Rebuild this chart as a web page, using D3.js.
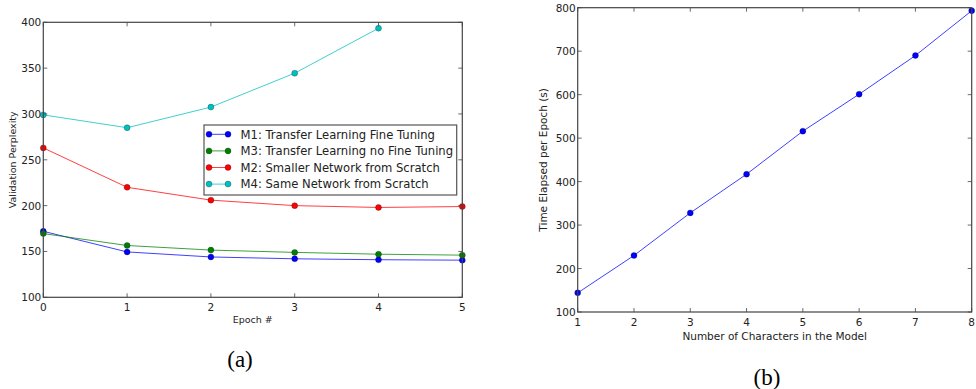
<!DOCTYPE html>
<html>
<head>
<meta charset="utf-8">
<script src="https://cdn.jsdelivr.net/npm/d3@7"></script>
<style>
  html, body { margin: 0; padding: 0; background: #fff; }
  svg { display: block; }
  text { font-family: "DejaVu Sans", sans-serif; fill: #222; }
  .caption { font-family: "Liberation Serif", "Times New Roman", serif; font-size: 23px; fill: #000; }
</style>
</head>
<body>
<div id="chart"></div>
<script>
// (a) validation perplexity per epoch
const epochs = [0, 1, 2, 3, 4, 5];
const m1 = [172, 149.5, 144, 142, 141, 140.5];
const m3 = [169.5, 156.5, 151.5, 149, 147, 146];
const m2 = [263, 220, 206, 200, 198, 199];
const m4 = [299, 285, 307.5, 344.5, 393.5];
const seriesA = [
  { name: 'M1: Transfer Learning Fine Tuning', values: m1, colour: '#0000ff' },
  { name: 'M3: Transfer Learning no Fine Tuning', values: m3, colour: '#008000' },
  { name: 'M2: Smaller Network from Scratch', values: m2, colour: '#ff0000' },
  { name: 'M4: Same Network from Scratch', values: m4, colour: '#00bfbf' },
];

// (b) time per epoch vs number of characters
const chars = [1, 2, 3, 4, 5, 6, 7, 8];
const timePerEpoch = [144, 230, 328, 417, 516, 601, 690, 793];

const width = 976;
const height = 389;

const svg = d3.select('#chart').append('svg')
    .attr('width', width)
    .attr('height', height);

function drawFrame(g, x, y, xTicks, yTicks) {
  const [x0, x1] = x.range();
  const [y0, y1] = y.range();
  const tick = 4;

  // ticks inside on all four sides
  const ticks = g.append('g').attr('stroke', '#444').attr('stroke-width', 0.8);
  xTicks.forEach(t => {
    ticks.append('line').attr('x1', x(t)).attr('x2', x(t)).attr('y1', y0).attr('y2', y0 - tick);
    ticks.append('line').attr('x1', x(t)).attr('x2', x(t)).attr('y1', y1).attr('y2', y1 + tick);
  });
  yTicks.forEach(t => {
    ticks.append('line').attr('y1', y(t)).attr('y2', y(t)).attr('x1', x0).attr('x2', x0 + tick);
    ticks.append('line').attr('y1', y(t)).attr('y2', y(t)).attr('x1', x1).attr('x2', x1 - tick);
  });

  g.append('rect')
      .attr('x', x0).attr('y', y1)
      .attr('width', x1 - x0).attr('height', y0 - y1)
      .attr('fill', 'none').attr('stroke', '#444').attr('stroke-width', 1.2);

  g.selectAll('.xt').data(xTicks).enter().append('text')
      .attr('x', d => x(d)).attr('y', y0 + 14)
      .attr('text-anchor', 'middle').attr('font-size', 10.5)
      .text(d => d);

  g.selectAll('.yt').data(yTicks).enter().append('text')
      .attr('x', x0 - 2).attr('y', d => y(d) + 4)
      .attr('text-anchor', 'end').attr('font-size', 10.5)
      .text(d => d);
}

function drawSeries(g, x, y, xs, values, colour) {
  const pts = values.map((v, i) => [xs[i], v]);
  const line = d3.line().x(d => x(d[0])).y(d => y(d[1]));
  g.append('path')
      .attr('d', line(pts))
      .attr('fill', 'none')
      .attr('stroke', colour)
      .attr('stroke-opacity', 0.75)
      .attr('stroke-width', 1);
  g.selectAll(null).data(pts).enter().append('circle')
      .attr('cx', d => x(d[0])).attr('cy', d => y(d[1]))
      .attr('r', 3)
      .attr('fill', colour)
      .attr('stroke', '#000').attr('stroke-opacity', 0.5).attr('stroke-width', 0.5);
}

// ---- chart (a)
const ga = svg.append('g');
const xa = d3.scaleLinear().domain([0, 5]).range([43.3, 462.3]);
const ya = d3.scaleLinear().domain([100, 400]).range([297.3, 22.3]);

const plotA = ga.append('g');
seriesA.forEach(s => drawSeries(plotA, xa, ya, epochs, s.values, s.colour));
drawFrame(ga, xa, ya, epochs, [100, 150, 200, 250, 300, 350, 400]);

ga.append('text')
    .attr('x', (43.3 + 462.3) / 2).attr('y', 323)
    .attr('text-anchor', 'middle').attr('font-size', 9.5)
    .text('Epoch #');
ga.append('text')
    .attr('transform', `translate(16,${(22.3 + 297.3) / 2}) rotate(-90)`)
    .attr('text-anchor', 'middle').attr('font-size', 9.5)
    .text('Validation Perplexity');

// legend
const legend = ga.append('g').attr('transform', 'translate(204,125)');
legend.append('rect')
    .attr('width', 252.7).attr('height', 70)
    .attr('fill', '#fff').attr('stroke', '#555').attr('stroke-width', 1.2);
seriesA.forEach((s, i) => {
  const row = legend.append('g').attr('transform', `translate(0,${9.3 + i * 16.6})`);
  row.append('line').attr('x1', 5).attr('x2', 24).attr('y1', 0).attr('y2', 0)
      .attr('stroke', s.colour).attr('stroke-opacity', 0.75);
  [5, 24].forEach(cx => row.append('circle').attr('cx', cx).attr('cy', 0).attr('r', 3)
      .attr('fill', s.colour).attr('stroke', '#000').attr('stroke-opacity', 0.5).attr('stroke-width', 0.5));
  row.append('text').attr('x', 36.5).attr('y', 4.2).attr('font-size', 11.6).text(s.name);
});

svg.append('text').attr('class', 'caption')
    .attr('x', 240).attr('y', 367).attr('text-anchor', 'middle')
    .text('(a)');

// ---- chart (b)
const gb = svg.append('g');
const xb = d3.scaleLinear().domain([1, 8]).range([577.7, 971.7]);
const yb = d3.scaleLinear().domain([100, 800]).range([312, 7.7]);

drawSeries(gb, xb, yb, chars, timePerEpoch, '#0000ff');
drawFrame(gb, xb, yb, chars, [100, 200, 300, 400, 500, 600, 700, 800]);

gb.append('text')
    .attr('x', (577.7 + 971.7) / 2).attr('y', 340)
    .attr('text-anchor', 'middle').attr('font-size', 10.5)
    .text('Number of Characters in the Model');
gb.append('text')
    .attr('transform', `translate(547,${(7.7 + 312) / 2}) rotate(-90)`)
    .attr('text-anchor', 'middle').attr('font-size', 10.5)
    .text('Time Elapsed per Epoch (s)');

svg.append('text').attr('class', 'caption')
    .attr('x', 767).attr('y', 385).attr('text-anchor', 'middle')
    .text('(b)');
</script>
</body>
</html>
